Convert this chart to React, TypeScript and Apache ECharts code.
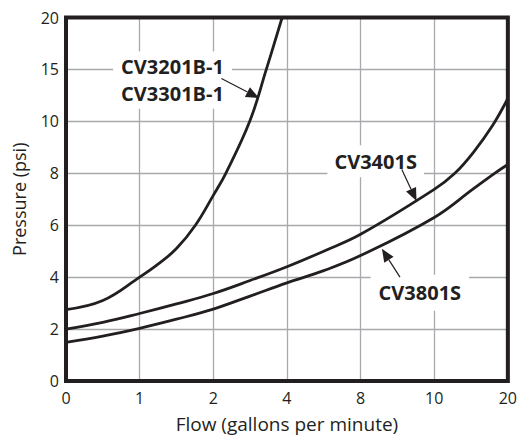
import React, { useEffect, useRef } from "react";
import * as echarts from "echarts";

// Axis tick labels (the axes are evenly spaced but non-linear)
const xTicks = [0, 1, 2, 4, 8, 10, 20];
const yTicks = [0, 2, 4, 6, 8, 10, 15, 20];

// CV3201B-1 / CV3301B-1
const flowA = [0, 0.5, 1, 1.25, 1.5, 1.757, 2, 2.34, 2.99, 3.44, 3.87];
const psiA = [2.75, 3.1, 4.0, 4.5, 5.1, 6.0, 7.15, 8.0, 10.0, 15.0, 20.0];

// CV3401S
const flowB = [0, 0.5, 1, 1.5, 2, 3, 4, 6, 8, 10, 12.8, 15.3, 17.9, 20];
const psiB = [2.0, 2.26, 2.6, 2.97, 3.37, 3.87, 4.4, 5.0, 5.65, 7.38, 8.0, 8.8, 9.83, 12.2];

// CV3801S
const flowC = [0, 0.5, 1, 1.5, 2, 3, 4, 6, 8, 10, 15.3, 18.2, 20];
const psiC = [1.49, 1.73, 2.03, 2.38, 2.77, 3.27, 3.78, 4.25, 4.83, 6.3, 7.4, 8.0, 8.34];

const INK = "#231f20";
const GRIDC = "#a7a9ac";

function toIdx(v: number, ticks: number[]): number {
  for (let i = 0; i < ticks.length - 1; i++) {
    if (v <= ticks[i + 1]) return i + (v - ticks[i]) / (ticks[i + 1] - ticks[i]);
  }
  return ticks.length - 1;
}

function pts(flow: number[], psi: number[]) {
  return flow.map((f, i) => [toIdx(f, xTicks), toIdx(psi[i], yTicks)]);
}

export default function App() {
  const ref = useRef<HTMLDivElement>(null);
  useEffect(() => {
    if (!ref.current) return;
    const chart = echarts.init(ref.current, null, { renderer: "svg" });
    const lineSeries = (name: string, flow: number[], psi: number[]) => ({
      name,
      type: "line",
      data: pts(flow, psi),
      symbol: "none",
      smooth: 0.4,
      lineStyle: { color: INK, width: 2.8 },
      z: 3,
    });
    chart.setOption({
      animation: false,
      backgroundColor: "#ffffff",
      grid: {
        left: 66,
        right: 9.7,
        top: 17.5,
        bottom: 55,
        show: true,
        borderColor: INK,
        borderWidth: 4,
        z: 5,
      },
      xAxis: {
        type: "value",
        min: 0,
        max: xTicks.length - 1,
        interval: 1,
        name: "Flow (gallons per minute)",
        nameLocation: "middle",
        nameGap: 33,
        nameTextStyle: { fontFamily: "Open Sans", fontSize: 19, color: INK },
        axisLine: { show: false },
        axisTick: { show: false },
        axisLabel: {
          formatter: (v: number) => String(xTicks[Math.round(v)]),
          fontFamily: "Open Sans",
          fontSize: 16,
          color: INK,
          margin: 9,
        },
        splitLine: { show: true, lineStyle: { color: GRIDC, width: 1.3 } },
      },
      yAxis: {
        type: "value",
        min: 0,
        max: yTicks.length - 1,
        interval: 1,
        name: "Pressure (psi)",
        nameLocation: "middle",
        nameGap: 38,
        nameTextStyle: { fontFamily: "Open Sans", fontSize: 18, color: INK },
        axisLine: { show: false },
        axisTick: { show: false },
        axisLabel: {
          formatter: (v: number) => String(yTicks[Math.round(v)]),
          fontFamily: "Open Sans",
          fontSize: 16,
          color: INK,
          margin: 7,
        },
        splitLine: { show: true, lineStyle: { color: GRIDC, width: 1.3 } },
      },
      series: [
        lineSeries("CV3201B-1 / CV3301B-1", flowA, psiA),
        lineSeries("CV3401S", flowB, psiB),
        lineSeries("CV3801S", flowC, psiC),
      ],
    });

    const px = (flow: number, psi: number): number[] =>
      chart.convertToPixel({ xAxisIndex: 0, yAxisIndex: 0 }, [
        toIdx(flow, xTicks),
        toIdx(psi, yTicks),
      ]) as number[];

    const labelFont = 'bold 20px "Open Sans"';
    const label = (text: string, at: number[], padding: number[], lh: number) => ({
      type: "text",
      x: at[0],
      y: at[1],
      z: 10,
      style: {
        text,
        font: labelFont,
        fill: INK,
        align: "center",
        verticalAlign: "middle",
        lineHeight: lh,
        backgroundColor: "#ffffff",
        padding,
      },
    });
    const arrow = (tail: number[], tip: number[]) => {
      const dx = tip[0] - tail[0];
      const dy = tip[1] - tail[1];
      const len = Math.sqrt(dx * dx + dy * dy);
      const ux = dx / len;
      const uy = dy / len;
      const hl = 13;
      const hw = 5.5;
      const bx = tip[0] - ux * hl;
      const by = tip[1] - uy * hl;
      return [
        {
          type: "line",
          z: 11,
          shape: { x1: tail[0], y1: tail[1], x2: bx, y2: by },
          style: { stroke: INK, lineWidth: 1.2 },
        },
        {
          type: "polygon",
          z: 11,
          shape: {
            points: [
              [tip[0], tip[1]],
              [bx - uy * hw, by + ux * hw],
              [bx + uy * hw, by - ux * hw],
            ],
          },
          style: { fill: INK },
        },
      ];
    };

    chart.setOption({
      graphic: [
        label("CV3201B-1\nCV3301B-1", px(1.446, 13.97), [2, 8], 26.7),
        ...arrow(px(2.22, 14.13), px(3.24, 12.24)),
        label("CV3401S", px(8.41, 8.46), [3, 7], 26),
        ...arrow(px(9.12, 8.15), px(9.52, 6.93)),
        label("CV3801S", px(9.61, 3.4), [5, 8], 26),
        ...arrow(px(9.07, 4.0), px(8.58, 5.09)),
      ],
    });

    return () => chart.dispose();
  }, []);
  return (
    <div
      ref={ref}
      style={{ position: "absolute", left: 0, top: 0, width: 520, height: 438 }}
    />
  );
}
